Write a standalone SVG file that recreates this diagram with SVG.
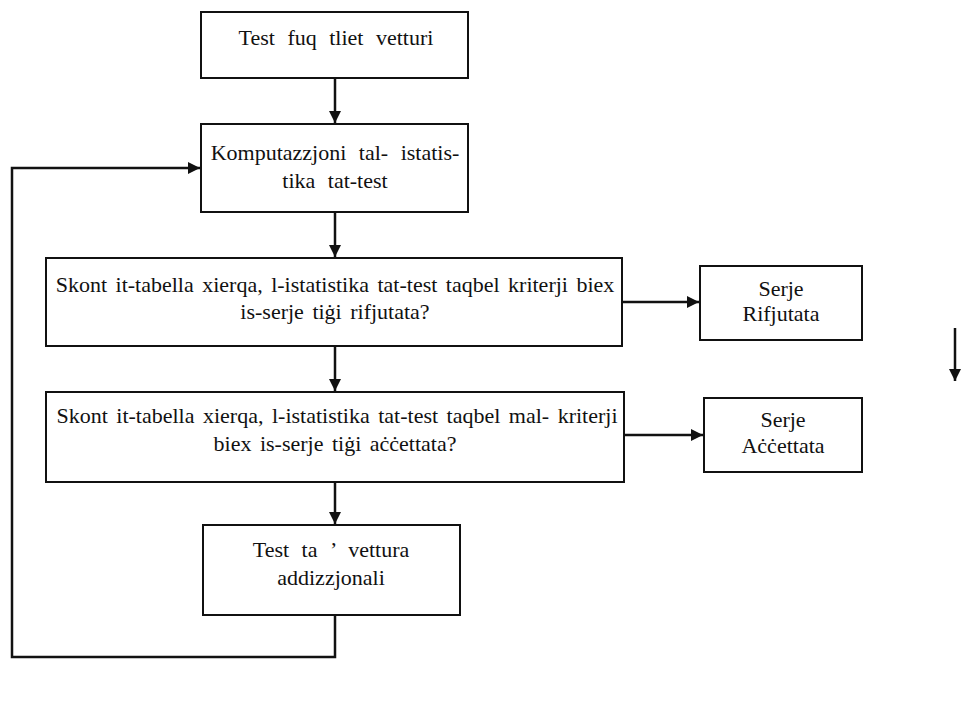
<svg xmlns="http://www.w3.org/2000/svg" width="966" height="706" viewBox="0 0 966 706">
<style>
.box{fill:#fff;stroke:#111;stroke-width:2}
.t{font-family:"Liberation Serif",serif;font-size:22px;fill:#111;text-anchor:middle;word-spacing:7px}
.w{word-spacing:3px}
.c{fill:none;stroke:#111;stroke-width:2.5}
</style>
<defs>
<marker id="ah" viewBox="0 0 10 10" refX="10" refY="5" markerWidth="5" markerHeight="5" orient="auto" markerUnits="strokeWidth">
<path d="M0,0 L10,5 L0,10 Z" fill="#111"/>
</marker>
</defs>
<rect width="966" height="706" fill="#fff"/>
<g id="connectors">
<line class="c" x1="335" y1="79" x2="335" y2="123" marker-end="url(#ah)"/>
<line class="c" x1="335" y1="213" x2="335" y2="257" marker-end="url(#ah)"/>
<line class="c" x1="335" y1="347" x2="335" y2="391" marker-end="url(#ah)"/>
<line class="c" x1="335" y1="483" x2="335" y2="524" marker-end="url(#ah)"/>
<line class="c" x1="623" y1="302" x2="699" y2="302" marker-end="url(#ah)"/>
<line class="c" x1="625" y1="435" x2="703" y2="435" marker-end="url(#ah)"/>
<polyline class="c" points="335,616 335,657 12,657 12,168 200,168" marker-end="url(#ah)"/>
<line class="c" x1="955" y1="328" x2="955" y2="381" marker-end="url(#ah)"/>
</g>
<g id="n1">
<rect class="box" x="201" y="12" width="267" height="66"/>
<text class="t" x="336" y="45">Test fuq tliet vetturi</text>
</g>
<g id="n2">
<rect class="box" x="201" y="124" width="267" height="88"/>
<text class="t" x="335" y="160">Komputazzjoni tal- istatis-</text>
<text class="t" x="335" y="188">tika tat-test</text>
</g>
<g id="n3">
<rect class="box" x="46" y="258" width="576" height="88"/>
<text class="t w" x="335" y="292">Skont it-tabella xierqa, l-istatistika tat-test taqbel kriterji biex</text>
<text class="t w" x="335" y="319">is-serje tiġi rifjutata?</text>
</g>
<g id="n4">
<rect class="box" x="46" y="392" width="578" height="90"/>
<text class="t w" x="337" y="423">Skont it-tabella xierqa, l-istatistika tat-test taqbel mal- kriterji</text>
<text class="t w" x="335" y="451">biex is-serje tiġi aċċettata?</text>
</g>
<g id="n5">
<rect class="box" x="700" y="266" width="162" height="74"/>
<text class="t" x="781" y="296">Serje</text>
<text class="t" x="781" y="321">Rifjutata</text>
</g>
<g id="n6">
<rect class="box" x="704" y="398" width="158" height="74"/>
<text class="t" x="783" y="427">Serje</text>
<text class="t" x="783" y="453">Aċċettata</text>
</g>
<g id="n7">
<rect class="box" x="203" y="525" width="257" height="90"/>
<text class="t" x="331" y="557">Test ta ’ vettura</text>
<text class="t" x="331" y="585">addizzjonali</text>
</g>
</svg>
